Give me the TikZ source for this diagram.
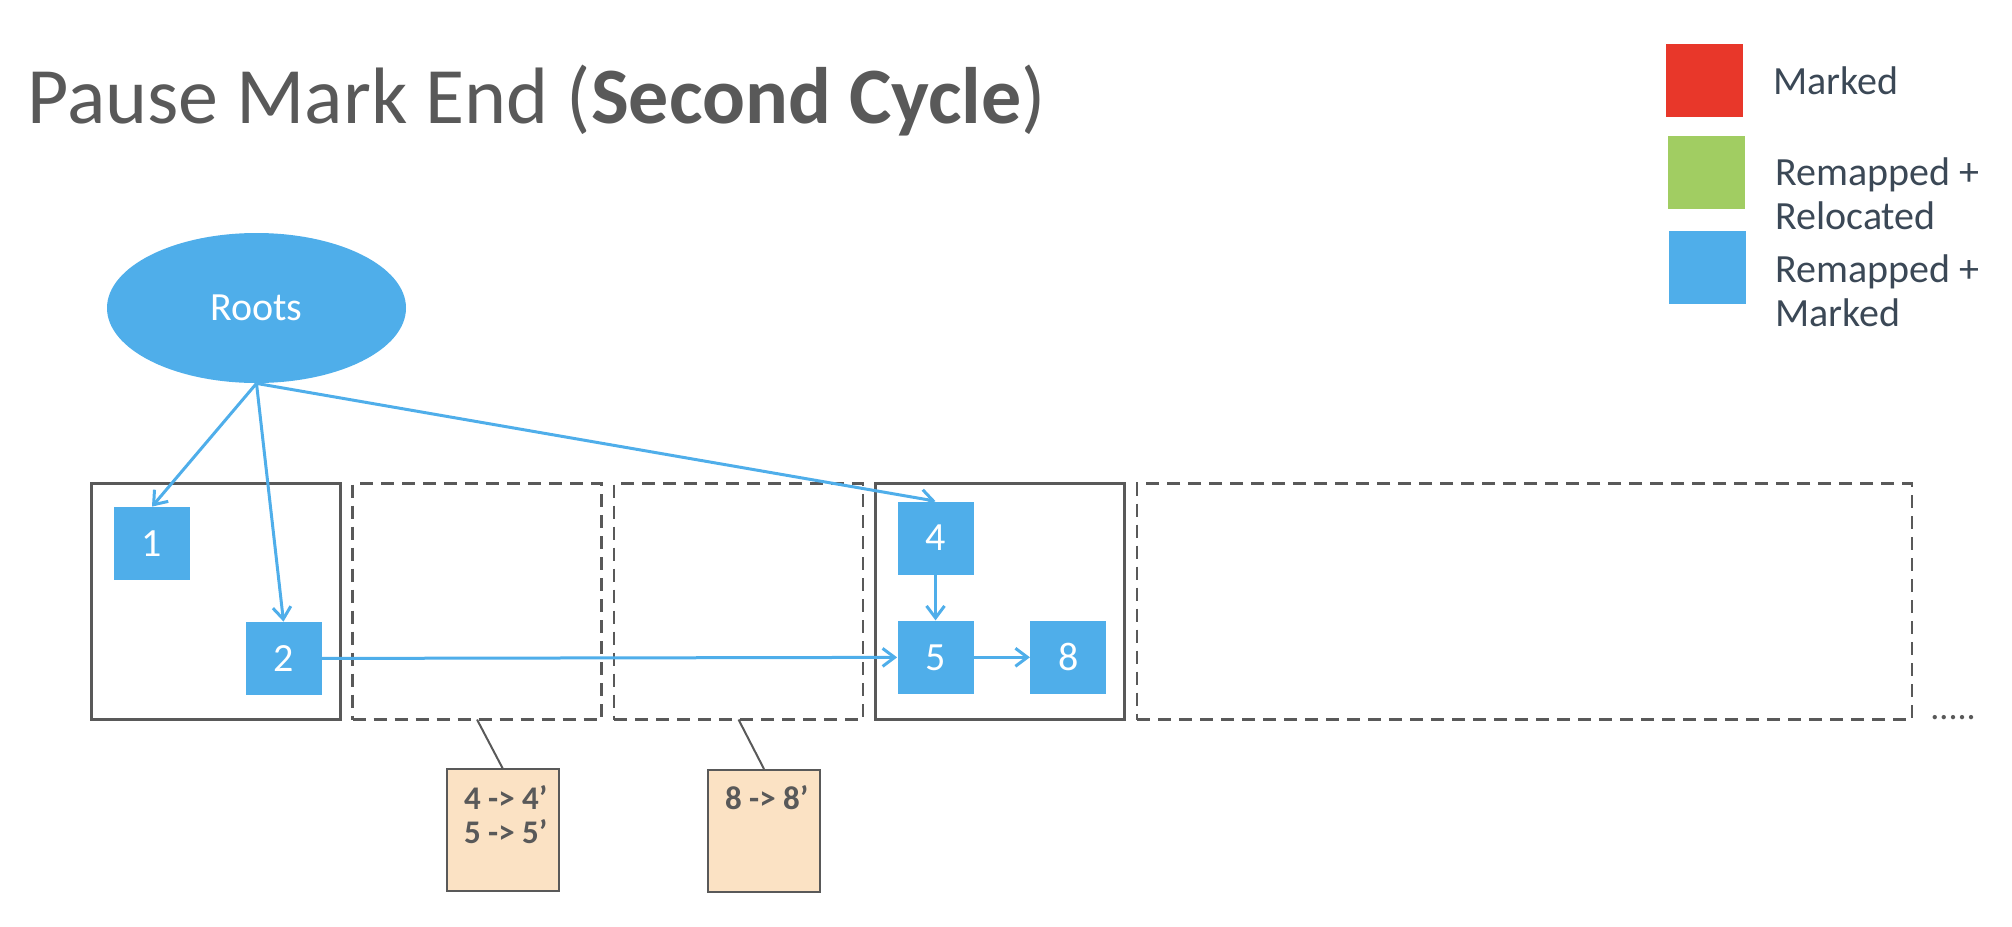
\documentclass[tikz,border=0pt]{standalone}
\usepackage{fontspec}
\setmainfont{Carlito}
\usepackage{xcolor}
\usepackage{tikz}
\usetikzlibrary{positioning, arrows.meta, shapes.geometric}
\definecolor{zBlue}{HTML}{4FAEEA}
\definecolor{zRed}{HTML}{E8372A}
\definecolor{zGreen}{HTML}{A1CD62}
\definecolor{zGray}{HTML}{595959}
\definecolor{zSlate}{HTML}{3B4856}
\definecolor{zPeach}{HTML}{FBE2C4}

\begin{document}
\begin{tikzpicture}[x=0.5pt, y=-0.5pt,
    region/.style={draw=zGray, line width=1.5pt, minimum width=124.5pt,
      minimum height=118pt, inner sep=0pt, outer sep=0pt},
    free/.style={region, dash pattern=on 6.5pt off 4pt, line width=1.25pt},
    obj/.style={fill=zBlue, text=white, minimum width=38pt, minimum height=36.5pt,
      inner sep=0pt, font=\fontsize{20}{24}\selectfont},
    legbox/.style={minimum width=38.5pt, minimum height=36.5pt, inner sep=0pt},
    legtext/.style={text=zSlate, align=left, inner sep=0pt,
      font=\fontsize{20}{22}\selectfont},
    note/.style={draw=zGray, line width=1pt, fill=zPeach, inner xsep=0pt,
      inner ysep=8pt, text=zGray, font=\fontsize{16.5}{17}\selectfont\bfseries},
    arr/.style={-{Straight Barb[length=6pt, width=9pt]}, line width=1.5pt, zBlue},
    tie/.style={draw=zGray, line width=1pt}]
  \useasboundingbox (0,0) rectangle (2012,926);
  \node[anchor=base west, inner sep=0pt, text=zGray,
    font=\fontsize{40}{48}\selectfont] (title) at (27,123)
    {Pause Mark End (\textbf{Second Cycle})};
  % legend
  \node[legbox, fill=zRed] (legRed) at (1704.5,80.5) {};
  \node[legbox, fill=zGreen] (legGreen) at (1706.5,172.5) {};
  \node[legbox, fill=zBlue] (legBlue) at (1707.5,267.5) {};
  \node[legtext, anchor=base west] (txtRed) at (1773,94) {Marked};
  \node[legtext, anchor=north west] (txtGreen) at (1775,157) {Remapped +\\Relocated};
  \node[legtext, anchor=north west] (txtBlue) at (1775,254) {Remapped +\\Marked};
  % roots and regions
  \node[ellipse, fill=zBlue, text=white, minimum width=149.5pt, minimum height=75pt,
    inner sep=0pt, font=\fontsize{20}{24}\selectfont] (roots) at (256.5,308) {Roots};
  \node[region] (regA) at (215.5,601.5) {};
  \node[free, right=6.25pt of regA] (regB) {};
  \node[free, right=6.25pt of regB] (regC) {};
  \node[region, right=6.25pt of regC] (regD) {};
  \node[free, minimum width=387.5pt, right=6.25pt of regD] (regE) {};
  \node[anchor=base west, inner sep=0pt, text=zGray, font=\fontsize{18}{20}\selectfont]
    (more) at ([xshift=9pt]regE.south east) {.....};
  % objects
  \node[obj] (n1) at (152,543.5) {1};
  \node[obj] (n2) at (283.5,658.5) {2};
  \node[obj] (n4) at (935.5,538) {4};
  \node[obj, below=22.75pt of n4] (n5) {5};
  \node[obj, right=28pt of n5] (n8) {8};
  \draw[arr] (roots.south) -- (n1.north);
  \draw[arr] (roots.south) -- (n2.north);
  \draw[arr] (roots.south) -- (n4.north);
  \draw[arr] (n2) -- (n5);
  \draw[arr] (n4) -- (n5);
  \draw[arr] (n5) -- (n8);
  % forwarding tables
  \draw[tie] (regB.south) -- (503,769);
  \draw[tie] (regC.south) -- (764,769);
  \node[note] (noteB) at (503,830)
    {\parbox[t][45pt][t]{56pt}{\leftskip=8.5pt 4 -> 4’\\5 -> 5’}};
  \node[note] (noteC) at (764,830.5)
    {\parbox[t][45pt][t]{56pt}{\leftskip=8.5pt 8 -> 8’}};
\end{tikzpicture}
\end{document}
